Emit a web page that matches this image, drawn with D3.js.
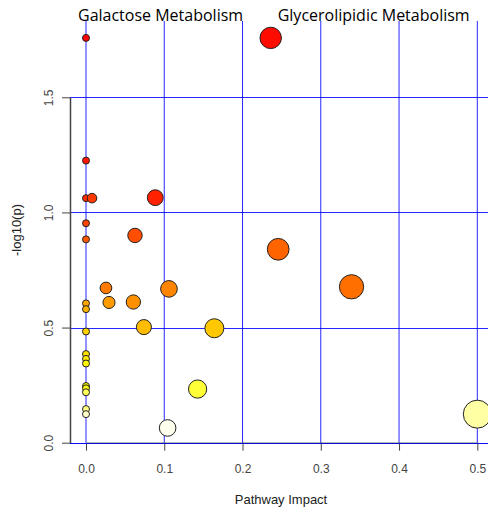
<!DOCTYPE html>
<html>
<head>
<meta charset="utf-8">
<script src="https://cdn.jsdelivr.net/npm/d3@7"></script>
<style>
  html, body { margin: 0; padding: 0; background: #fff; }
  svg { display: block; }
</style>
</head>
<body>
<svg id="chart" width="488" height="509"></svg>
<script>
// Pathway impact (x) and -log10(p) (y), one entry per pathway, highest significance first
const impact = [
  0, 0.236, 0, 0, 0.0077, 0.0885, 0, 0.0626, 0, 0.2456, 0.3393, 0.0255, 0.106,
  0.0605, 0.0294, 0, 0, 0.074, 0.164, 0, 0, 0, 0, 0, 0, 0.1426, 0, 0, 0.5, 0, 0.1043
];
const negLogP = [
  1.758, 1.758, 1.225, 1.062, 1.062, 1.064, 0.953, 0.900, 0.883, 0.840, 0.677, 0.672, 0.668,
  0.611, 0.609, 0.605, 0.580, 0.502, 0.497, 0.483, 0.385, 0.364, 0.344, 0.246, 0.236, 0.233,
  0.219, 0.146, 0.124, 0.124, 0.064
];

// Annotated pathways (index into the arrays above)
const labelText = ["Galactose Metabolism", "Glycerolipidic Metabolism"];
const labelIndex = [0, 1];

const xTicks = [0, 0.1, 0.2, 0.3, 0.4, 0.5];
const yTicks = [0, 0.5, 1.0, 1.5];

const svg = d3.select("#chart");

const x = d3.scaleLinear().domain([0, 0.5]).range([86, 477.3]);
const y = d3.scaleLinear().domain([0, 1.5]).range([442.7, 97.3]);
const r = d3.scaleSqrt().domain([0, 0.5]).range([3.5, 14]);

const plotTop = 21, plotLeft = 70, plotRight = 492;
const snap = v => Math.round(v) + 0.5;

// heat palette: red -> yellow through hue, then yellow -> white through saturation
function heatColors(n) {
  const j = Math.floor(n / 4), i = n - j, out = [];
  for (let k = 0; k < i; k++) {
    const h = i > 1 ? k / (i - 1) : 0;            // fraction of the red->yellow sweep
    out.push(d3.rgb(255, Math.round(255 * h), 0).formatHex());
  }
  const s0 = 1 - 1 / (2 * j), s1 = 1 / (2 * j);
  for (let k = 0; k < j; k++) {
    const s = j > 1 ? s0 + k * (s1 - s0) / (j - 1) : 0.5;
    out.push(d3.rgb(255, 255, Math.round(255 * (1 - s))).formatHex());
  }
  return out;
}

const points = impact.map((v, i) => ({ x: v, y: negLogP[i], i }));
const order = d3.range(points.length).sort((a, b) => points[b].y - points[a].y || a - b);
const palette = heatColors(points.length);
order.forEach((idx, rank) => { points[idx].fill = palette[rank]; });

// blue reference grid
const gridColor = "#0000ff";
const grid = svg.append("g");
grid.selectAll(null).data(xTicks).join("line")
  .attr("x1", d => x(d)).attr("x2", d => x(d))
  .attr("y1", plotTop).attr("y2", y(0))
  .attr("stroke", gridColor).attr("stroke-opacity", 0.85).attr("stroke-width", 1);
grid.selectAll(null).data(yTicks).join("line")
  .attr("x1", plotLeft).attr("x2", plotRight)
  .attr("y1", d => snap(y(d))).attr("y2", d => snap(y(d)))
  .attr("stroke", gridColor).attr("stroke-opacity", 0.85).attr("stroke-width", 1);

// axes
const axisColor = "#444";
const yAxis = svg.append("g")
  .attr("transform", `translate(${plotLeft},0)`)
  .call(d3.axisLeft(y).tickValues(yTicks).tickSize(8).tickSizeOuter(0).tickFormat(d3.format(".1f")));
yAxis.select(".domain").attr("stroke", axisColor).attr("stroke-width", 1.5);
yAxis.selectAll(".tick line").attr("stroke", axisColor);
yAxis.selectAll(".tick text")
  .attr("x", null).attr("dy", null)
  .attr("transform", "translate(-17,0) rotate(-90)")
  .attr("text-anchor", "middle")
  .attr("font-family", "Liberation Sans, Arial, sans-serif")
  .attr("font-size", 12)
  .attr("fill", "#444");

const xAxis = svg.append("g")
  .attr("transform", `translate(0,${y(0)})`)
  .call(d3.axisBottom(x).tickValues(xTicks).tickSize(8).tickSizeOuter(0).tickPadding(14).tickFormat(d3.format(".1f")));
xAxis.select(".domain").attr("stroke", "#222");
xAxis.selectAll(".tick line").attr("stroke", axisColor);
xAxis.selectAll(".tick text")
  .attr("font-family", "Liberation Sans, Arial, sans-serif")
  .attr("font-size", 12)
  .attr("fill", "#444");

// bottom grid line sits over the axis baseline
svg.append("line")
  .attr("x1", plotLeft).attr("x2", plotRight)
  .attr("y1", snap(y(0))).attr("y2", snap(y(0)))
  .attr("stroke", gridColor).attr("stroke-opacity", 0.75).attr("stroke-width", 1);

// bubbles: size from impact, colour from significance rank
svg.append("g").selectAll("circle")
  .data(points.slice().sort((a, b) => b.y - a.y || a.i - b.i))
  .join("circle")
  .attr("cx", d => x(d.x))
  .attr("cy", d => y(d.y))
  .attr("r", d => r(d.x))
  .attr("fill", d => d.fill)
  .attr("stroke", "#222")
  .attr("stroke-width", 1);

// axis titles
svg.append("text")
  .attr("x", 281).attr("y", 504)
  .attr("text-anchor", "middle")
  .attr("font-family", "Liberation Sans, Arial, sans-serif")
  .attr("font-size", 13)
  .attr("fill", "#222")
  .text("Pathway Impact");

svg.append("text")
  .attr("transform", "translate(21,230) rotate(-90)")
  .attr("text-anchor", "middle")
  .attr("font-family", "Liberation Sans, Arial, sans-serif")
  .attr("font-size", 13)
  .attr("fill", "#222")
  .text("-log10(p)");

// pathway annotations
const labelDx = [-8, 7];
svg.append("g").selectAll("text")
  .data(labelIndex)
  .join("text")
  .attr("x", (d, k) => x(impact[d]) + labelDx[k])
  .attr("y", 21)
  .attr("font-family", "Open Sans, Noto Sans, sans-serif")
  .attr("font-size", 16)
  .attr("fill", "#000")
  .text((d, k) => labelText[k]);
</script>
</body>
</html>
